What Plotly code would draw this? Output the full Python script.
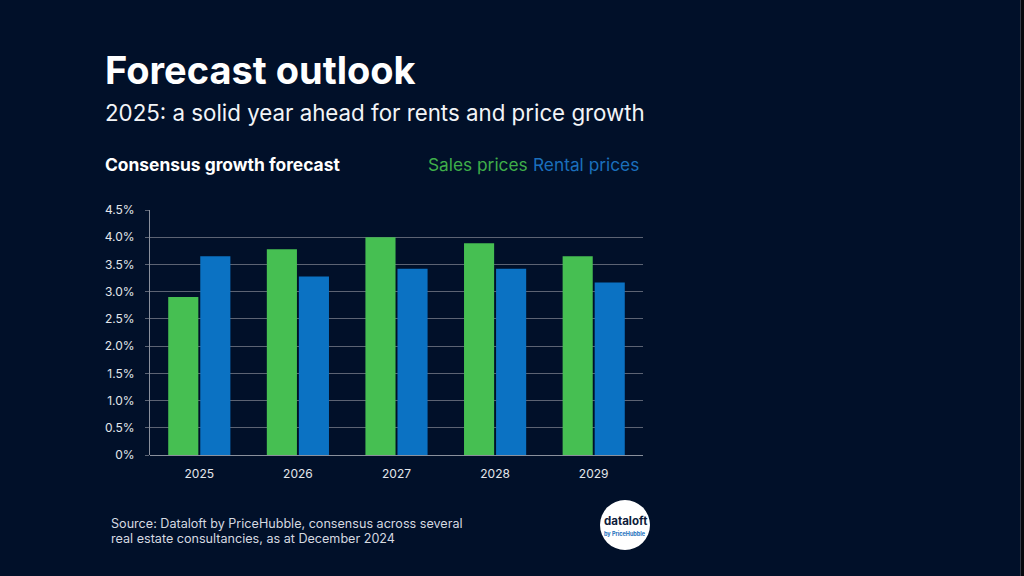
import plotly.graph_objects as go

years = ["2025", "2026", "2027", "2028", "2029"]
sales_prices = [2.9, 3.78, 4.0, 3.89, 3.65]
rental_prices = [3.65, 3.28, 3.42, 3.42, 3.17]
y_tickvals = [0, 0.5, 1.0, 1.5, 2.0, 2.5, 3.0, 3.5, 4.0, 4.5]
y_ticktext = ["0%", "0.5%", "1.0%", "1.5%", "2.0%", "2.5%", "3.0%", "3.5%", "4.0%", "4.5%"]

BG = "#011029"
GREEN = "#46bf52"
BLUE = "#0b72c3"
FONT = "Inter"

W_FIG, H_FIG = 1020, 576
L, R, T, B = 150, 643, 210, 455
PW, PH = R - L, B - T


def px(x):
    return (x - L) / PW


def py(y):
    return (B - y) / PH


fig = go.Figure()
fig.add_trace(go.Bar(x=years, y=sales_prices, name="Sales prices", marker=dict(color=GREEN, line=dict(width=0))))
fig.add_trace(go.Bar(x=years, y=rental_prices, name="Rental prices", marker=dict(color=BLUE, line=dict(width=0))))

annotations = []


def text(x, y, s, size, color, bold=False, anchor="left"):
    annotations.append(dict(
        x=px(x), y=py(y), xref="paper", yref="paper", text=(f"<b>{s}</b>" if bold else s),
        showarrow=False, xanchor=anchor, yanchor="middle",
        font=dict(family=FONT, size=size, color=color)))


text(103, 70, "Forecast outlook", 38, "#ffffff", bold=True)
text(103, 112, "2025: a solid year ahead for rents and price growth", 22.3, "#f2f4f7")
text(103, 164, "Consensus growth forecast", 17.4, "#ffffff", bold=True)
text(426, 164, "Sales prices", 17.3, "#3fae4a")
text(531, 164, "Rental prices", 17.3, "#1b6fbc")
text(109, 523, "Source: Dataloft by PriceHubble, consensus across several", 12.6, "#d5d9e0")
text(109, 538, "real estate consultancies, as at December 2024", 12.6, "#d5d9e0")
text(625, 521, "<b>dataloft</b>", 11.5, "#0d1b3a", anchor="center")
text(625, 533, "<b>by PriceHubble</b>", 5.5, "#1b6fbc", anchor="center")

shapes = [
    dict(type="circle", xref="paper", yref="paper", x0=px(600), x1=px(650), y0=py(550), y1=py(500),
         fillcolor="#ffffff", line=dict(width=0), layer="below"),
]

fig.update_layout(
    width=W_FIG, height=H_FIG,
    margin=dict(l=L, r=W_FIG - R, t=T, b=H_FIG - B, pad=0),
    paper_bgcolor=BG, plot_bgcolor=BG,
    barmode="group", bargap=0.35, bargroupgap=0.06,
    showlegend=False,
    annotations=annotations, shapes=shapes,
    font=dict(family=FONT, color="#e3e6eb"),
    xaxis=dict(showgrid=False, showline=False, ticks="", zeroline=False,
               tickfont=dict(family=FONT, size=12, color="#e3e6eb"), ticklabelstandoff=10),
    yaxis=dict(range=[0, 4.5], tickvals=y_tickvals, ticktext=y_ticktext,
               showgrid=True, gridcolor="#5c6373", gridwidth=1,
               showline=True, linecolor="#8a909c", linewidth=1,
               ticks="outside", ticklen=4, tickcolor="#5c6373",
               zeroline=True, zerolinecolor="#8a909c", zerolinewidth=1,
               tickfont=dict(family=FONT, size=12, color="#e3e6eb"), ticklabelstandoff=8),
)

fig.write_html(
    "out.html",
    config={"displayModeBar": False},
    post_script=(
        "document.body.style.margin='0';document.body.style.padding='0';"
        "document.body.style.overflow='hidden';document.body.style.background='#06080d';"
        "var d=document.querySelector('.plotly-graph-div');"
        "if(d){d.style.borderRight='1px solid #343a47';}"
    ),
)
